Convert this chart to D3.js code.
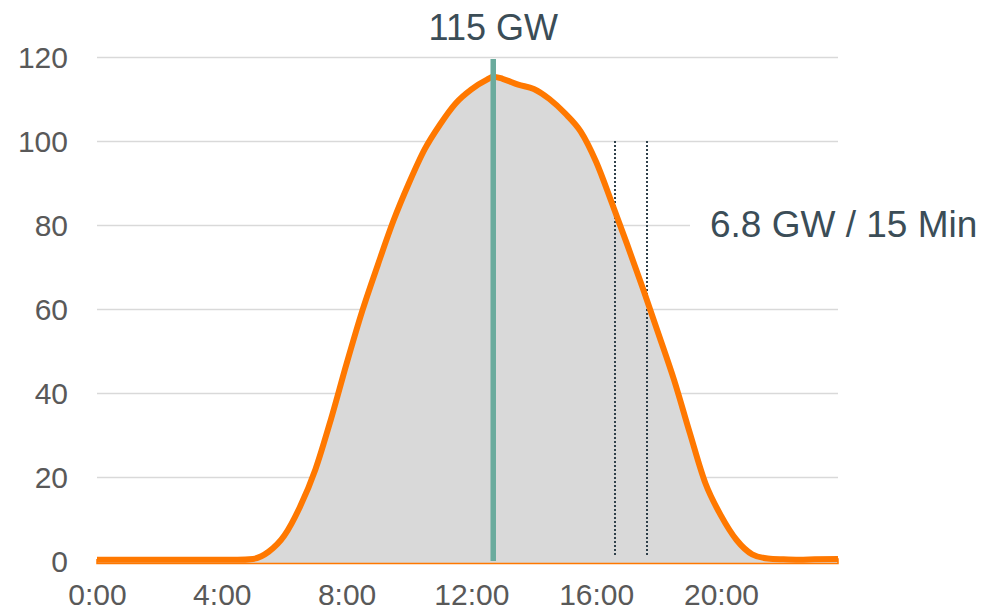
<!DOCTYPE html>
<html>
<head>
<meta charset="utf-8">
<script src="https://cdn.jsdelivr.net/npm/d3@7"></script>
<style>
  body { margin: 0; background: #fff; }
  svg { display: block; font-family: "Liberation Sans", Arial, sans-serif; }
</style>
</head>
<body>
<div id="chart"></div>
<script>
//data
var hours = [0, 1, 2, 3, 4, 4.5, 5, 5.5, 6, 6.5, 7, 7.5, 8, 8.5, 9, 9.5, 10, 10.5, 11, 11.5,
    12, 12.5, 12.7, 13, 13.5, 14, 14.5, 15, 15.5, 16, 16.5, 17, 17.5, 18, 18.5, 19, 19.5,
    20, 20.5, 21, 21.5, 22, 22.5, 23, 23.75];
var solarGW = [0.3, 0.3, 0.3, 0.3, 0.3, 0.3, 0.5, 2.2, 6, 12.8, 21.8, 33.8, 47, 59.5, 70.5, 81, 90, 98, 104, 109,
    112.3, 114.6, 115.3, 114.8, 113.4, 112.4, 110, 106.6, 102.3, 95, 85.3, 75.2, 64.8, 54, 43, 30.5, 18.5,
    10.8, 5, 1.6, 0.6, 0.4, 0.3, 0.4, 0.5];
var yTicks = [0, 20, 40, 60, 80, 100, 120];
var xTicks = [0, 4, 8, 12, 16, 20];
var xTickLabels = ['0:00', '4:00', '8:00', '12:00', '16:00', '20:00'];
var peakHour = 12.7,
    peakLabel = '115 GW';
var rampHours = [16.6, 17.62],
    rampLabel = '6.8 GW / 15 Min';

//sizes
var outerW = 983,
    outerH = 611;
var margin = { top: 57, right: 145, bottom: 50, left: 97 };
var w = outerW - margin.left - margin.right,
    h = outerH - margin.top - margin.bottom;

var data = hours.map(function(d, i) { return { h: d, v: solarGW[i] }; });

//scales
var xScale = d3.scaleLinear().domain([0, 23.75]).range([0, w]);
var yScale = d3.scaleLinear().domain([0, 120]).range([h, 0]);

var svg = d3.select('#chart').append('svg')
    .attr('width', outerW)
    .attr('height', outerH);

var g = svg.append('g')
    .attr('transform', 'translate(' + margin.left + ', ' + margin.top + ')');

//grid
var yAxis = d3.axisLeft(yScale)
    .tickValues(yTicks)
    .tickSize(-w)
    .tickPadding(29)
    .tickFormat(d3.format('d'));

var yAxisG = g.append('g').call(yAxis);
yAxisG.select('.domain').remove();
yAxisG.selectAll('.tick line')
    .attr('stroke', '#d9d9d9')
    .attr('stroke-width', 1.5);
yAxisG.selectAll('.tick text')
    .attr('fill', '#595959')
    .style('font-size', '30px')
    .attr('dy', '0.35em');

var xAxis = d3.axisBottom(xScale)
    .tickValues(xTicks)
    .tickSize(0)
    .tickPadding(23)
    .tickFormat(function(d, i) { return xTickLabels[i]; });

var xAxisG = g.append('g')
    .attr('transform', 'translate(0,' + h + ')')
    .call(xAxis);
xAxisG.select('.domain').remove();
xAxisG.selectAll('.tick text')
    .attr('fill', '#595959')
    .style('font-size', '30px');

//area + line
var area = d3.area()
    .x(function(d) { return xScale(d.h); })
    .y0(yScale(0) + 2.5)
    .y1(function(d) { return yScale(d.v); })
    .curve(d3.curveMonotoneX);

g.append('path')
    .datum(data)
    .attr('d', area)
    .attr('fill', '#d9d9d9')
    .attr('stroke', '#ff7800')
    .attr('stroke-width', 1.5);

//ramp markers
g.selectAll('.ramp-line')
    .data(rampHours)
    .enter().append('line')
    .attr('class', 'ramp-line')
    .attr('x1', function(d) { return Math.round(xScale(d)); })
    .attr('x2', function(d) { return Math.round(xScale(d)); })
    .attr('y1', yScale(100))
    .attr('y2', yScale(1))
    .attr('stroke', '#2f404a')
    .attr('stroke-width', 2)
    .attr('stroke-dasharray', '2,2');

var line = d3.line()
    .x(function(d) { return xScale(d.h); })
    .y(function(d) { return yScale(d.v); })
    .curve(d3.curveMonotoneX);

g.append('path')
    .datum(data)
    .attr('d', line)
    .attr('fill', 'none')
    .attr('stroke', '#ff7800')
    .attr('stroke-width', 6)
    .attr('stroke-linejoin', 'round');

//peak marker
g.append('line')
    .attr('x1', xScale(peakHour))
    .attr('x2', xScale(peakHour))
    .attr('y1', yScale(119.5))
    .attr('y2', yScale(0))
    .attr('stroke', '#6aab9d')
    .attr('stroke-width', 5.5);

g.append('text')
    .attr('x', xScale(peakHour))
    .attr('y', -17)
    .attr('text-anchor', 'middle')
    .attr('fill', '#3b4d57')
    .style('font-size', '36px')
    .text(peakLabel);

//ramp label with white box over the grid
g.append('rect')
    .attr('x', 593)
    .attr('y', yScale(80) - 25)
    .attr('width', 300)
    .attr('height', 50)
    .attr('fill', '#fff');

g.append('text')
    .attr('x', 613)
    .attr('y', yScale(80) + 12)
    .attr('fill', '#3b4d57')
    .style('font-size', '37px')
    .text(rampLabel);
</script>
</body>
</html>
